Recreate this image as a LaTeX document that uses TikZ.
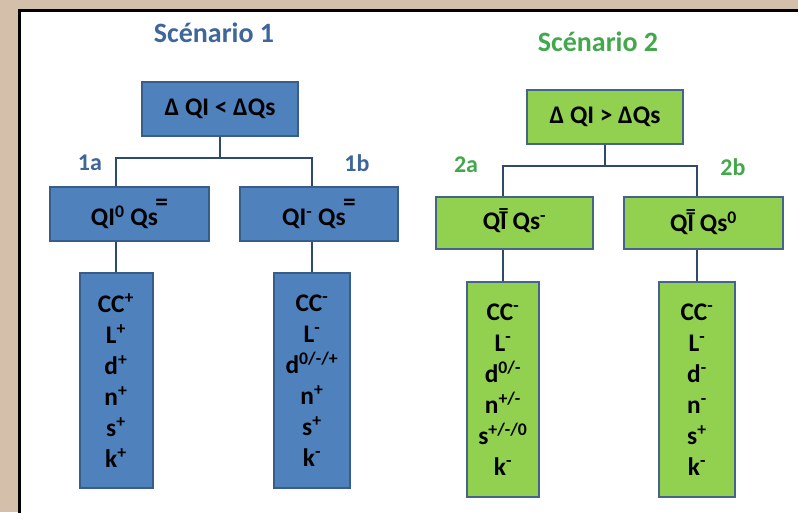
\documentclass[tikz,border=0pt]{standalone}
\usepackage{fontspec}
\setmainfont{Carlito}
\definecolor{boxblue}{HTML}{4F81BD}
\definecolor{edgeblue}{HTML}{385D8A}
\definecolor{boxgreen}{HTML}{92D050}
\definecolor{edgegreen}{HTML}{46648A}
\definecolor{titleblue}{HTML}{3F669A}
\definecolor{titlegreen}{HTML}{43A84C}
\definecolor{linkcol}{HTML}{2E4A6A}
\definecolor{backdrop}{HTML}{D4C0AA}
\newcommand{\eqsup}{\kern-0.1em\raisebox{0.6em}{=}}
\newcommand{\barI}{\ooalign{I\cr\hidewidth\raisebox{0.5em}{\fontsize{15}{15}\selectfont=}\hidewidth\cr}}

\begin{document}
\begin{tikzpicture}[x=0.75pt,y=-0.75pt,
	box/.style={draw,line width=1.5pt,inner sep=0pt,align=center,font=\fontsize{19}{23.25}\selectfont\bfseries},
	blue box/.style={box,fill=boxblue,draw=edgeblue},
	green box/.style={box,fill=boxgreen,draw=edgegreen},
	link/.style={draw=linkcol,line width=2pt},
	title/.style={font=\fontsize{21}{25}\selectfont\bfseries},
	tag/.style={font=\fontsize{18}{21}\selectfont\bfseries}]
		\useasboundingbox (0,0) rectangle (798,512);
		\clip (0,0) rectangle (798,512);
		\fill[backdrop] (0,0) rectangle (798,512);
		\draw[line width=2.25pt,fill=white] (19.5,10.5) rectangle (830,540);
		% scenario 1
		\node[title,text=titleblue] (s1) at (214,33) {Scénario 1};
		\node[blue box,minimum width=117pt,minimum height=40.5pt] (t1) at (220,109) {Δ QI < ΔQs};
		\node[blue box,minimum width=119pt,minimum height=40.5pt] (a1) at (129.5,214) {QI\textsuperscript{0} Qs\eqsup};
		\node[blue box,minimum width=118.5pt,minimum height=40.5pt] (b1) at (319,214) {QI\textsuperscript{-} Qs\eqsup};
		\node[blue box,minimum width=54.75pt,minimum height=161.25pt] (ta1) at (116,380.5) {CC\textsuperscript{+}\\ L\textsuperscript{+}\\ d\textsuperscript{+}\\ n\textsuperscript{+}\\ s\textsuperscript{+}\\ k\textsuperscript{+}};
		\node[blue box,minimum width=57pt,minimum height=161.25pt] (tb1) at (312,380.5) {CC\textsuperscript{-}\\ L\textsuperscript{-}\\ d\textsuperscript{0/-/+}\\ n\textsuperscript{+}\\ s\textsuperscript{+}\\ k\textsuperscript{-}};
		\node[tag,text=titleblue] (l1a) at (90,163) {1a};
		\node[tag,text=titleblue] (l1b) at (357,163) {1b};
		\coordinate (j1) at (220,158);
		\draw[link] (t1.south) -- (j1);
		\draw[link] (j1) -| (ta1 |- a1.north);
		\draw[link] (j1) -| (tb1 |- b1.north);
		\draw[link] (ta1 |- a1.south) -- (ta1.north);
		\draw[link] (tb1 |- b1.south) -- (tb1.north);
		% scenario 2
		\node[title,text=titlegreen] (s2) at (598,42) {Scénario 2};
		\node[green box,minimum width=117pt,minimum height=40.5pt] (t2) at (605,117) {Δ QI > ΔQs};
		\node[green box,minimum width=117.75pt,minimum height=39pt] (a2) at (514.5,223) {Q\barI{} Qs\textsuperscript{-}};
		\node[green box,minimum width=119pt,minimum height=39pt] (b2) at (703.5,223) {Q\barI{} Qs\textsuperscript{0}};
		\node[green box,minimum width=54pt,minimum height=161.25pt] (ta2) at (503,389.5) {CC\textsuperscript{-}\\ L\textsuperscript{-}\\ d\textsuperscript{0/-}\\ n\textsuperscript{+/-}\\ s\textsuperscript{+/-/0}\\ k\textsuperscript{-}};
		\node[green box,minimum width=57pt,minimum height=161.25pt] (tb2) at (697,389.5) {CC\textsuperscript{-}\\ L\textsuperscript{-}\\ d\textsuperscript{-}\\ n\textsuperscript{-}\\ s\textsuperscript{+}\\ k\textsuperscript{-}};
		\node[tag,text=titlegreen] (l2a) at (466,165) {2a};
		\node[tag,text=titlegreen] (l2b) at (733,167) {2b};
		\coordinate (j2) at (605,166);
		\draw[link] (t2.south) -- (j2);
		\draw[link] (j2) -| (ta2 |- a2.north);
		\draw[link] (j2) -| (tb2 |- b2.north);
		\draw[link] (ta2 |- a2.south) -- (ta2.north);
		\draw[link] (tb2 |- b2.south) -- (tb2.north);
	\end{tikzpicture}
\end{document}
